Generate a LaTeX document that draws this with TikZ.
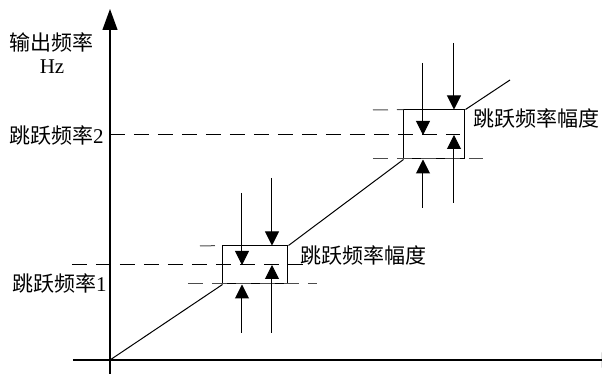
\documentclass[tikz,border=0pt]{standalone}
\usepackage{fontspec}
\setmainfont{Liberation Serif}
\newfontfamily\cjk{Noto Sans CJK SC}
\usetikzlibrary{arrows.meta}

\begin{document}
\begin{tikzpicture}[
  x=0.5pt, y=-0.5pt, font=\fontsize{10.5pt}{12pt}\selectfont,
  axis/.style={line width=0.6pt, -{Triangle[length=10.5pt,width=7.5pt]}},
  arr/.style={line width=0.5pt, -{Triangle[length=7pt,width=7pt]}},
  jumpbox/.style={draw, line width=0.5pt, inner sep=0pt},
  guide/.style={line width=0.5pt, dash pattern=on 7.5pt off 4.5pt},
  lbl/.style={inner sep=0pt},
  cjklbl/.style={inner sep=0pt, font=\fontsize{10.5pt}{12pt}\cjk},
]
\useasboundingbox (0,0) rectangle (602,374);
\clip (0,0) rectangle (602,374);

% axes
\coordinate (O) at (110,360);
\draw[axis] (73,360) -- (623,360);
\draw[axis] (110,374) -- (110,9);
\node[cjklbl] (ylab) at (52,42) {输出频率};
\node[lbl] (unit) at (52,67) {Hz};

% skip bands
\node[jumpbox, minimum width=32.5pt, minimum height=19pt] (b1) at (255.5,265) {};
\node[jumpbox, minimum width=30.5pt, minimum height=24.5pt] (b2) at (434.5,134.5) {};
\coordinate (end) at (510,80);

% dashed guides
\draw[guide] (72,265) -- (307,265);
\draw[guide, black!70] (200,246) -- (b1.north west);
\draw[guide, black!70] (188,284) -- (317,284);
\draw[guide] (110,135) -- (460,135);
\draw[guide, black!70] (373,110) -- (b2.north west);
\draw[guide, black!70] (373,159) -- (483,159);

% output curve
\draw[line width=0.5pt] (O) -- (b1.south west);
\draw[line width=0.5pt] (b1.north east) -- (b2.south west);
\draw[line width=0.5pt] (b2.north east) -- (end);

% band arrows
\draw[arr] (242,193) -- (242,265);
\draw[arr] (272,178) -- (b1.north -| 272,0);
\draw[arr] (242,333) -- (b1.south -| 242,0);
\draw[arr] (272,333) -- (272,265);
\draw[arr] (423,63) -- (423,135);
\draw[arr] (454,43) -- (b2.north -| 454,0);
\draw[arr] (423,208) -- (b2.south -| 423,0);
\draw[arr] (454,203) -- (454,135);

% labels
\node[lbl, anchor=east] (f2) at (104,135) {{\cjk 跳跃频率}2};
\node[lbl, anchor=east] (f1) at (107,283) {{\cjk 跳跃频率}1};
\node[cjklbl, anchor=west] (w1) at (300,255) {跳跃频率幅度};
\node[cjklbl, anchor=west] (w2) at (473,118) {跳跃频率幅度};
\end{tikzpicture}
\end{document}
